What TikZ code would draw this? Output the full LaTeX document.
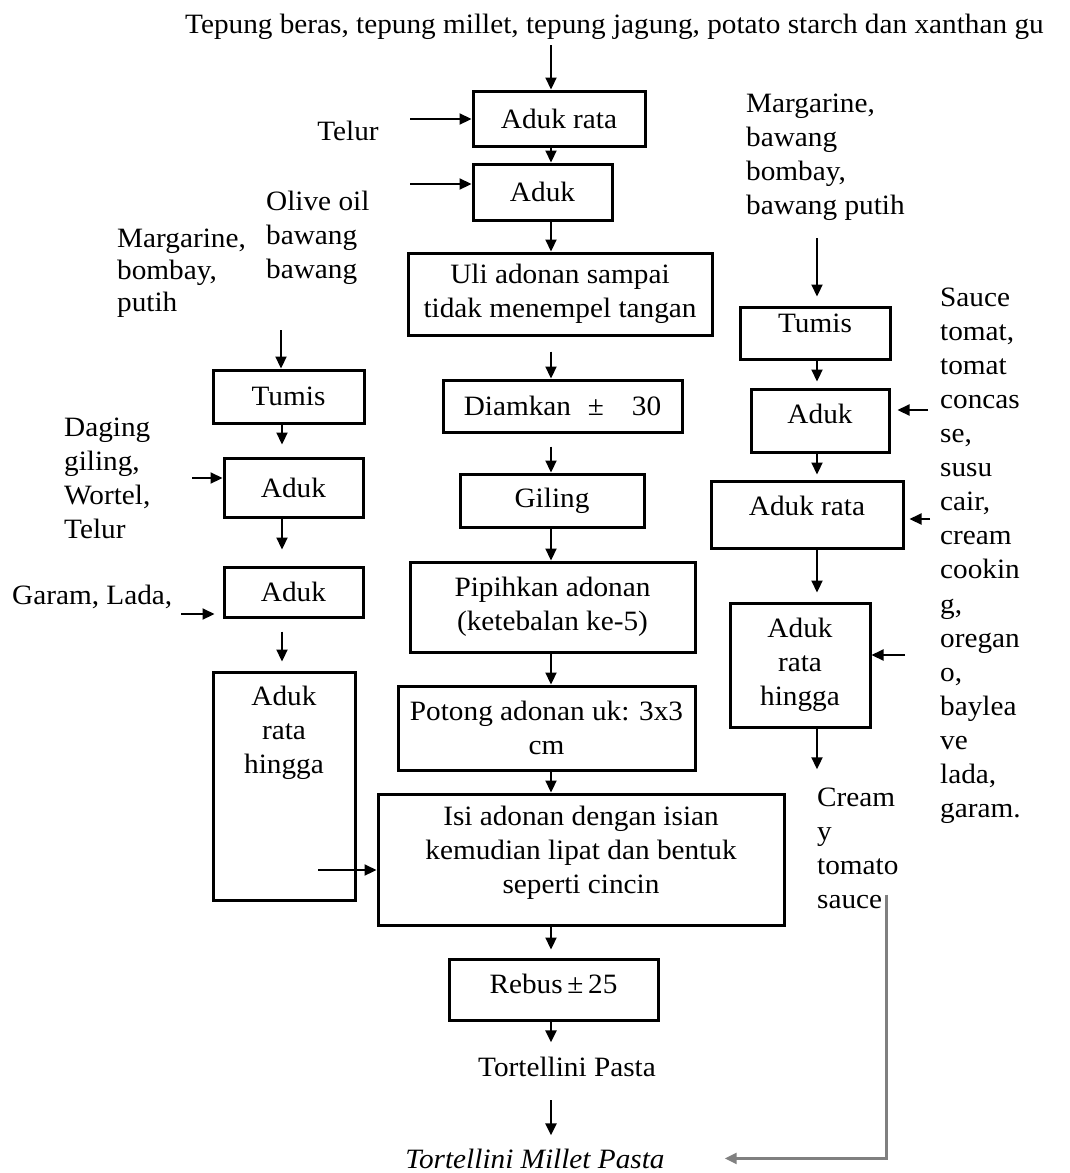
\documentclass[tikz,border=0pt]{standalone}
\usepackage{fontspec}
\setmainfont{Liberation Serif}[FakeStretch=1.045]
\usetikzlibrary{arrows.meta}
\begin{document}
\begin{tikzpicture}[x=1pt, y=-1pt,
    every node/.style={font=\fontsize{28}{34}\selectfont, inner sep=0pt},
    box/.style={draw, line width=3pt, align=center},
    txt/.style={anchor=base west},
    arr/.style={line width=2.2pt, -{Triangle[length=12pt, width=11pt]}},
    sarr/.style={line width=2.4pt, gray, -{Triangle[length=12pt, width=11pt]}}]
  \useasboundingbox (0,0) rectangle (1069,1173);
  \coordinate (spine) at (551,0);
  \coordinate (lcol) at (282,0);
  \coordinate (rcol) at (817,0);

  % title
  \node[txt] (title) at (185,33) {Tepung beras, tepung millet, tepung jagung, potato starch dan xanthan gu};

  % middle column
  \node[box, minimum width=172, minimum height=55] (adukA) at (559,118.5) {Aduk rata};
  \node[box, minimum width=139, minimum height=56] (adukB) at (542.5,192) {Aduk};
  \node[box, minimum width=304, minimum height=82] (uli) at (560,294) {Uli adonan sampai\\tidak menempel tangan};
  \node[box, minimum width=239, minimum height=52] (diam) at (562.5,406) {Diamkan\hspace{0.6em}±\hspace{1em}30};
  \node[box, minimum width=184, minimum height=53] (giling) at (552,500.5) {Giling};
  \node[box, minimum width=285, minimum height=90] (pipih) at (552.5,607) {Pipihkan adonan\\(ketebalan ke-5)};
  \node[box, minimum width=297, minimum height=84] (potong) at (546.5,728) {Potong adonan uk: 3x3\\cm};
  \node[box, minimum width=406, minimum height=131, text depth=19pt] (isi) at (581,859.5) {Isi adonan dengan isian\\kemudian lipat dan bentuk\\seperti cincin};
  \node[box, minimum width=209, minimum height=61, text depth=12pt] (rebus) at (553.5,989.5) {Rebus\,±\,25};
  \node[anchor=base] (tp) at (567,1076) {Tortellini Pasta};
  \node[anchor=base, font=\fontsize{28}{34}\selectfont\itshape] (tmp) at (535,1168) {Tortellini Millet Pasta};

  \draw[arr] ([yshift=-6pt]title.south -| spine) -- (adukA.north -| spine);
  \draw[arr] (adukA.south -| spine) -- (adukB.north -| spine);
  \draw[arr] (adukB.south -| spine) -- (uli.north -| spine);
  \draw[arr] ([yshift=-15pt]uli.south -| spine) -- (diam.north -| spine);
  \draw[arr] ([yshift=-13pt]diam.south -| spine) -- (giling.north -| spine);
  \draw[arr] (giling.south -| spine) -- (pipih.north -| spine);
  \draw[arr] (pipih.south -| spine) -- (potong.north -| spine);
  \draw[arr] (potong.south -| spine) -- (isi.north -| spine);
  \draw[arr, shorten >=8pt] (isi.south -| spine) -- (rebus.north -| spine);
  \draw[arr, shorten >=14pt] (rebus.south -| spine) -- (tp.north -| spine);
  \draw[arr, shorten >=13pt] ([yshift=-24pt]tp.south -| spine) -- (tmp.north -| spine);

  % inputs to the dough
  \node[anchor=base] (telur) at (348,140) {Telur};
  \coordinate (telur-in) at (410,119);
  \draw[arr] (telur-in) -- (telur-in -| adukA.west);
  \coordinate (olive-in) at (410,184);
  \draw[arr] (olive-in) -- (olive-in -| adukB.west);

  % left column: filling
  \foreach \w [count=\i] in {Olive oil,bawang,bawang}
    \node[txt] (olive-\i) at (266,{176+34*\i}) {\w};
  \foreach \w [count=\i] in {{Margarine,},{bombay,},putih}
    \node[txt] (margL-\i) at (117,{215+32*\i}) {\w};
  \foreach \w [count=\i] in {Daging,{giling,},{Wortel,},Telur}
    \node[txt] (daging-\i) at (64,{402+34*\i}) {\w};
  \node[txt] (garam) at (12,604) {Garam, Lada,};

  \node[box, minimum width=151, minimum height=53] (tumisL) at (288.5,396.5) {Tumis};
  \node[box, minimum width=139, minimum height=59] (adukC) at (293.5,487.5) {Aduk};
  \node[box, minimum width=139, minimum height=50] (adukD) at (293.5,592) {Aduk};
  \node[box, minimum width=142, minimum height=228] (adukE) at (284,786) {};
  \node[anchor=north, align=center] (adukE-t) at ([yshift=-15pt]adukE.north) {Aduk\\rata\\hingga};

  \coordinate (margL-dn) at (281,330);
  \draw[arr] (margL-dn) -- (margL-dn |- tumisL.north);
  \draw[arr] (tumisL.south -| lcol) -- ([yshift=12pt]adukC.north -| lcol);
  \draw[arr] (adukC.south -| lcol) -- ([yshift=16pt]adukD.north -| lcol);
  \draw[arr] ([yshift=-13pt]adukD.south -| lcol) -- ([yshift=9pt]adukE.north -| lcol);
  \coordinate (daging-in) at (192,478);
  \draw[arr] (daging-in) -- (daging-in -| adukC.west);
  \coordinate (garam-in) at (181,614);
  \draw[arr, shorten >=8pt] (garam-in) -- (garam-in -| adukD.west);
  \coordinate (isi-in) at (318,870);
  \draw[arr] (isi-in) -- (isi-in -| isi.west);

  % right column: sauce
  \foreach \w [count=\i] in {{Margarine,},bawang,{bombay,},bawang putih}
    \node[txt] (margR-\i) at (746,{78+34*\i}) {\w};
  \foreach \w [count=\i] in {Sauce,{tomat,},tomat,concas,{se,},susu,{cair,},cream,cookin,{g,},oregan,{o,},baylea,ve,{lada,},{garam.}}
    \node[txt] (sauce-\i) at (940,{272+34.1*\i}) {\w};
  \foreach \w [count=\i] in {Cream,y,tomato,sauce}
    \node[txt] (cream-\i) at (817,{772+34*\i}) {\w};

  \node[box, minimum width=150, minimum height=52, text depth=20pt] (tumisR) at (815,333) {Tumis};
  \node[box, minimum width=138, minimum height=63, text depth=14pt] (adukR1) at (820,420.5) {Aduk};
  \node[box, minimum width=192, minimum height=67, text depth=17pt] (adukR2) at (807,514.5) {Aduk rata};
  \node[box, minimum width=140, minimum height=124] (adukR3) at (800,665) {Aduk\\rata\\hingga};

  \coordinate (margR-dn) at (817,238);
  \draw[arr] (margR-dn) -- ([yshift=9pt]tumisR.north -| rcol);
  \draw[arr] (tumisR.south -| rcol) -- ([yshift=6pt]adukR1.north -| rcol);
  \draw[arr] (adukR1.south -| rcol) -- ([yshift=5pt]adukR2.north -| rcol);
  \draw[arr] (adukR2.south -| rcol) -- ([yshift=9pt]adukR3.north -| rcol);
  \draw[arr] (adukR3.south -| rcol) -- ([yshift=18pt]cream-1.north -| rcol);
  \coordinate (sauce-a) at (928,410);
  \draw[arr, shorten >=7pt] (sauce-a) -- (sauce-a -| adukR1.east);
  \coordinate (sauce-b) at (930,519);
  \draw[arr, shorten >=5pt] (sauce-b) -- (sauce-b -| adukR2.east);
  \coordinate (sauce-c) at (905,655);
  \draw[arr] (sauce-c) -- (sauce-c -| adukR3.east);

  % sauce joins the pasta
  \draw[sarr] ([xshift=4pt]cream-4.north east) |- ([xshift=60pt]tmp.east);
\end{tikzpicture}
\end{document}
